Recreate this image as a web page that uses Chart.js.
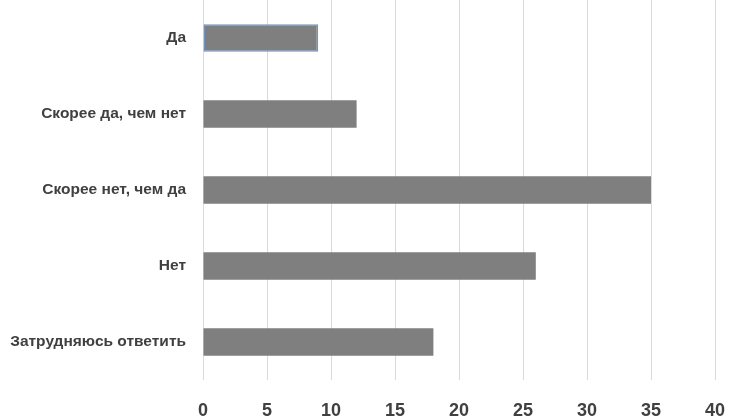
<!DOCTYPE html>
<html>
<head>
<meta charset="utf-8">
<script src="https://cdn.jsdelivr.net/npm/chart.js@4"></script>
<style>
  html, body { margin: 0; padding: 0; background: #fff; overflow: hidden; }
  canvas { display: block; }
</style>
</head>
<body>
<canvas id="answersChart" width="730" height="420"></canvas>
<script>
const categories = ['Да', 'Скорее да, чем нет', 'Скорее нет, чем да', 'Нет', 'Затрудняюсь ответить'];
const answerValues = [9, 12, 35, 26, 18];
const xTicks = [0, 5, 10, 15, 20, 25, 30, 35, 40];

document.addEventListener("DOMContentLoaded", function () {
  const labelColor = '#404040';
  const gridColor = '#d9d9d9';

  const ctx = document.getElementById('answersChart').getContext('2d');
  new Chart(ctx, {
    type: 'bar',
    data: {
      labels: categories,
      datasets: [{
        data: answerValues,
        backgroundColor: '#7f7f7f',
        borderColor: ['#7393b8', '#7f7f7f', '#7f7f7f', '#7f7f7f', '#7f7f7f'],
        borderWidth: [1.5, 0, 0, 0, 0],
        borderSkipped: false,
        categoryPercentage: 1,
        barPercentage: 0.36
      }]
    },
    options: {
      indexAxis: 'y',
      responsive: false,
      animation: false,
      layout: { padding: { left: 0, right: 15, top: 0, bottom: 0 } },
      plugins: {
        legend: { display: false },
        title: { display: false },
        tooltip: { enabled: false }
      },
      scales: {
        x: {
          min: 0,
          max: 40,
          afterBuildTicks: (scale) => { scale.ticks = xTicks.map(v => ({ value: v })); },
          afterFit: (scale) => {
            scale.height = 40;
            scale.paddingTop = 0; scale.paddingBottom = 0;
            scale.paddingLeft = 0; scale.paddingRight = 0;
          },
          grid: { color: gridColor, drawTicks: false },
          border: { display: false },
          ticks: {
            color: labelColor,
            padding: 20,
            maxRotation: 0,
            font: { family: '"Liberation Sans", Arial, sans-serif', size: 18, weight: 'bold' }
          }
        },
        y: {
          afterFit: (scale) => { scale.width = 203; scale.paddingTop = 0; scale.paddingBottom = 0; },
          grid: { display: false, drawTicks: false },
          border: { display: false },
          ticks: {
            color: labelColor,
            padding: 17,
            font: { family: '"Liberation Sans", Arial, sans-serif', size: 15.5, weight: 'bold' }
          }
        }
      }
    }
  });
});
</script>
</body>
</html>
